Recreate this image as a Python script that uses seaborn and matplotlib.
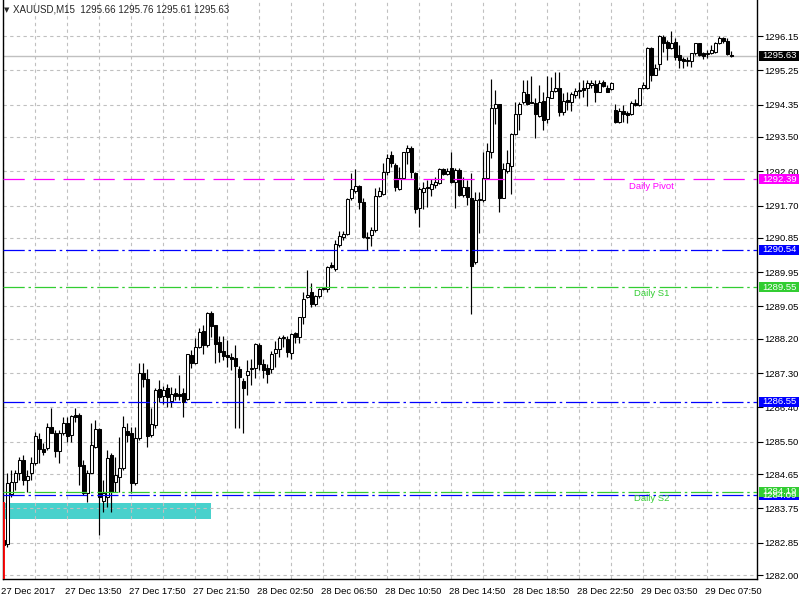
import matplotlib
matplotlib.use("Agg")
import matplotlib.pyplot as plt
import matplotlib.transforms as mtransforms
from matplotlib.patches import Rectangle
import numpy as np
import pandas as pd
import seaborn as sns

opens = [1282.92, 1282.81, 1284.12, 1284.45, 1284.67, 1285.02, 1284.49, 1284.67, 1284.95, 1285.56,
         1285.30, 1285.33, 1285.88, 1285.74, 1285.26, 1285.74, 1286.00, 1285.68, 1286.20, 1286.20,
         1284.89, 1284.15, 1284.69, 1285.37, 1285.83, 1283.95, 1284.06, 1285.15, 1284.45, 1284.57,
         1284.80, 1285.78, 1285.72, 1284.41, 1285.59, 1287.31, 1287.14, 1285.68, 1285.94, 1286.88,
         1286.71, 1286.90, 1286.58, 1286.77, 1286.74, 1286.77, 1286.62, 1287.78, 1287.56, 1287.99,
         1288.41, 1288.04, 1288.87, 1288.56, 1288.13, 1287.88, 1287.78, 1287.73, 1287.69, 1287.40,
         1287.10, 1287.25, 1287.41, 1287.43, 1288.04, 1287.53, 1287.44, 1287.40, 1287.84, 1287.93,
         1288.23, 1288.19, 1287.82, 1288.35, 1288.24, 1288.78, 1289.29, 1289.42, 1289.11, 1289.33,
         1289.51, 1289.51, 1290.14, 1290.03, 1290.66, 1290.87, 1290.95, 1291.89, 1292.09, 1292.21,
         1291.78, 1290.88, 1290.93, 1291.06, 1291.95, 1292.00, 1292.57, 1293.03, 1292.76, 1292.13,
         1292.42, 1293.10, 1293.20, 1292.55, 1291.63, 1292.05, 1292.19, 1292.13, 1292.24, 1292.28,
         1292.65, 1292.54, 1292.69, 1292.31, 1292.62, 1291.98, 1292.19, 1291.89, 1290.21, 1291.84,
         1291.85, 1292.41, 1293.10, 1294.27, 1294.36, 1291.91, 1292.61, 1292.75, 1293.57, 1294.10,
         1294.41, 1294.62, 1294.43, 1294.38, 1294.06, 1294.45, 1293.97, 1294.53, 1294.71, 1294.78,
         1294.16, 1294.47, 1294.43, 1294.60, 1294.71, 1294.78, 1294.78, 1294.87, 1294.88, 1294.69,
         1294.94, 1294.79, 1294.76, 1294.21, 1293.88, 1294.18, 1294.12, 1294.10, 1294.38, 1294.34,
         1294.78, 1294.78, 1295.84, 1295.13, 1295.41, 1296.13, 1296.00, 1295.84, 1296.00, 1295.65,
         1295.54, 1295.50, 1295.50, 1295.70, 1295.96, 1295.70, 1295.67, 1295.70, 1295.72, 1295.96,
         1296.11, 1296.02, 1295.66]
highs = [1283.00, 1284.67, 1284.76, 1284.76, 1285.11, 1285.15, 1284.76, 1285.11, 1285.76, 1285.72,
         1285.46, 1286.00, 1286.39, 1285.81, 1285.81, 1286.16, 1286.14, 1286.20, 1286.39, 1286.25,
         1285.02, 1284.76, 1286.00, 1286.07, 1285.85, 1284.49, 1285.28, 1285.20, 1285.11, 1285.62,
         1286.17, 1286.00, 1285.89, 1285.89, 1287.56, 1287.56, 1287.40, 1286.39, 1286.90, 1287.12,
         1286.96, 1287.01, 1286.94, 1286.90, 1287.25, 1286.90, 1287.80, 1287.91, 1288.21, 1288.48,
         1288.56, 1288.91, 1288.94, 1288.56, 1288.27, 1288.27, 1288.17, 1287.82, 1288.04, 1287.49,
         1287.16, 1287.65, 1287.66, 1288.10, 1288.10, 1287.66, 1287.54, 1287.89, 1288.14, 1288.27,
         1288.30, 1288.27, 1288.36, 1288.39, 1288.78, 1289.44, 1290.01, 1289.66, 1289.35, 1289.53,
         1289.57, 1290.11, 1290.22, 1290.80, 1291.04, 1291.04, 1291.89, 1292.55, 1292.65, 1292.24,
         1291.89, 1291.01, 1291.14, 1292.15, 1292.19, 1292.81, 1293.05, 1293.13, 1292.81, 1292.72,
         1293.11, 1293.29, 1293.25, 1292.59, 1292.19, 1292.33, 1292.37, 1292.39, 1292.46, 1292.68,
         1292.68, 1292.68, 1293.10, 1292.69, 1292.68, 1292.46, 1292.37, 1292.55, 1292.06, 1292.06,
         1293.11, 1293.33, 1295.02, 1294.73, 1294.36, 1292.81, 1293.16, 1293.60, 1294.43, 1294.43,
         1294.99, 1294.99, 1295.11, 1294.52, 1294.86, 1294.69, 1295.11, 1295.08, 1295.21, 1295.21,
         1294.65, 1294.69, 1294.69, 1294.78, 1294.95, 1294.99, 1294.99, 1294.99, 1294.99, 1294.99,
         1294.99, 1294.86, 1294.94, 1294.36, 1294.25, 1294.34, 1294.18, 1294.44, 1294.50, 1294.79,
         1294.95, 1295.87, 1295.87, 1295.41, 1296.18, 1296.18, 1296.05, 1296.28, 1296.11, 1295.91,
         1295.61, 1295.61, 1295.70, 1295.97, 1295.96, 1295.73, 1295.78, 1295.91, 1295.99, 1296.16,
         1296.13, 1296.11, 1295.76]
lows = [1282.47, 1282.74, 1284.06, 1284.23, 1284.49, 1284.36, 1284.19, 1284.49, 1284.89, 1284.95,
        1285.15, 1285.28, 1285.72, 1285.11, 1284.95, 1285.68, 1285.50, 1285.50, 1286.02, 1284.36,
        1284.10, 1283.92, 1284.67, 1285.33, 1283.05, 1283.66, 1283.79, 1283.66, 1284.19, 1284.19,
        1284.76, 1285.50, 1284.15, 1284.36, 1285.54, 1286.94, 1285.37, 1285.63, 1285.85, 1286.55,
        1286.49, 1286.42, 1286.42, 1286.59, 1286.59, 1286.16, 1286.59, 1287.43, 1287.54, 1287.95,
        1287.80, 1287.99, 1288.26, 1287.56, 1287.60, 1287.65, 1287.47, 1287.38, 1285.85, 1285.85,
        1285.74, 1286.73, 1286.99, 1287.16, 1287.38, 1287.16, 1287.05, 1287.30, 1287.47, 1287.73,
        1287.99, 1287.73, 1287.66, 1288.08, 1288.10, 1288.59, 1289.26, 1289.04, 1289.06, 1289.26,
        1289.48, 1289.44, 1290.05, 1289.99, 1290.62, 1290.80, 1290.93, 1291.85, 1292.02, 1291.60,
        1290.84, 1290.53, 1290.64, 1291.01, 1291.93, 1291.98, 1292.50, 1292.72, 1292.08, 1292.11,
        1292.40, 1292.78, 1292.42, 1291.50, 1291.14, 1291.61, 1291.67, 1291.96, 1292.15, 1292.26,
        1292.50, 1292.50, 1292.28, 1291.63, 1291.96, 1291.93, 1291.71, 1288.84, 1290.16, 1290.97,
        1291.80, 1292.40, 1292.96, 1293.83, 1291.54, 1291.89, 1292.55, 1291.99, 1293.55, 1293.68,
        1294.36, 1294.34, 1294.38, 1293.47, 1294.03, 1293.68, 1293.86, 1294.52, 1294.67, 1294.06,
        1294.08, 1294.21, 1294.18, 1294.52, 1294.53, 1294.56, 1294.30, 1294.78, 1294.41, 1294.67,
        1294.82, 1294.67, 1294.73, 1293.86, 1293.86, 1293.90, 1293.86, 1294.08, 1294.30, 1294.32,
        1294.76, 1294.76, 1294.97, 1295.13, 1295.26, 1295.74, 1295.52, 1295.81, 1295.52, 1295.32,
        1295.32, 1295.37, 1295.35, 1295.65, 1295.63, 1295.55, 1295.57, 1295.67, 1295.70, 1295.93,
        1295.96, 1295.65, 1295.61]
closes = [1282.79, 1284.42, 1284.45, 1284.67, 1285.02, 1284.49, 1284.60, 1284.93, 1285.65, 1285.30,
          1285.24, 1285.88, 1285.74, 1285.26, 1285.72, 1286.00, 1285.65, 1286.17, 1286.16, 1284.87,
          1284.15, 1284.69, 1285.41, 1285.83, 1284.06, 1284.16, 1285.06, 1284.19, 1284.63, 1284.80,
          1285.88, 1285.68, 1284.41, 1285.59, 1287.31, 1287.14, 1285.65, 1285.96, 1286.86, 1286.68,
          1286.86, 1286.68, 1286.74, 1286.70, 1286.71, 1286.55, 1287.80, 1287.56, 1287.99, 1288.37,
          1288.04, 1288.87, 1288.55, 1288.06, 1287.86, 1287.75, 1287.72, 1287.66, 1287.49, 1287.21,
          1286.92, 1287.36, 1287.43, 1288.06, 1287.53, 1287.38, 1287.28, 1287.80, 1287.93, 1288.21,
          1288.26, 1287.86, 1288.33, 1288.26, 1288.78, 1289.24, 1289.35, 1289.11, 1289.33, 1289.50,
          1289.53, 1290.09, 1290.09, 1290.68, 1290.90, 1290.95, 1291.86, 1292.13, 1292.21, 1291.80,
          1290.87, 1290.84, 1291.06, 1291.95, 1292.08, 1292.57, 1292.94, 1292.81, 1292.19, 1292.42,
          1293.10, 1293.20, 1292.59, 1291.61, 1292.13, 1292.17, 1292.15, 1292.26, 1292.31, 1292.65,
          1292.54, 1292.61, 1292.31, 1292.62, 1291.98, 1292.19, 1291.93, 1290.10, 1291.85, 1291.87,
          1292.43, 1293.13, 1294.27, 1294.36, 1291.91, 1292.66, 1292.81, 1293.57, 1294.10, 1294.36,
          1294.67, 1294.36, 1294.38, 1294.10, 1294.43, 1293.95, 1294.56, 1294.71, 1294.79, 1294.16,
          1294.44, 1294.43, 1294.62, 1294.71, 1294.74, 1294.73, 1294.91, 1294.91, 1294.69, 1294.91,
          1294.85, 1294.69, 1294.91, 1293.90, 1294.18, 1294.10, 1294.08, 1294.38, 1294.34, 1294.78,
          1294.86, 1295.83, 1295.13, 1295.30, 1296.16, 1295.96, 1295.84, 1295.96, 1295.61, 1295.52,
          1295.50, 1295.52, 1295.70, 1295.96, 1295.65, 1295.63, 1295.70, 1295.78, 1295.96, 1296.11,
          1296.02, 1295.67, 1295.63]

time_labels = ["27 Dec 2017", "27 Dec 13:50", "27 Dec 17:50", "27 Dec 21:50", "28 Dec 02:50",
               "28 Dec 06:50", "28 Dec 10:50", "28 Dec 14:50", "28 Dec 18:50", "28 Dec 22:50",
               "29 Dec 03:50", "29 Dec 07:50"]
price_ticks = [1282.00, 1282.85, 1283.75, 1284.65, 1285.50, 1286.40, 1287.30, 1288.20, 1289.05,
               1289.95, 1290.85, 1291.70, 1292.60, 1293.50, 1294.35, 1295.25, 1296.15]

pivot_level = 1292.39
s1_level = 1289.55
s2_level = 1284.19
blue_levels = [1290.54, 1286.55, 1284.09]
current_price = 1295.63
zone_low, zone_high, zone_end_bar = 1283.47, 1283.89, 52
marker_top = 1283.92
header = "XAUUSD,M15  1295.66 1295.76 1295.61 1295.63"

df = pd.DataFrame({"open": opens, "high": highs, "low": lows, "close": closes})
df["bar"] = np.arange(len(df))
df["bull"] = df["close"] >= df["open"]
df["bottom"] = df[["open", "close"]].min(axis=1)
df["height"] = (df["close"] - df["open"]).abs().clip(lower=0.02)

sns.set_style("white")
plt.rcParams["font.family"] = ["Liberation Sans", "DejaVu Sans"]

W, H = 800, 600
FS = 6.8
fig = plt.figure(figsize=(8, 6), dpi=100)
ax = fig.add_axes([3 / W, 21 / H, 754 / W, 579 / H])
ax.set_facecolor("white")

ax.set_xlim(-0.075, 188.4)
ax.set_ylim(1281.895, 1297.096)

# zone rectangle (background)
ax.add_patch(Rectangle((-0.5, zone_low), zone_end_bar + 0.5, zone_high - zone_low,
                       facecolor="#48D1CC", edgecolor="none", zorder=0.2))

# grid
ax.set_axisbelow(True)
grid_kw = dict(color="#C0C0C0", linestyle=(0, (3, 3)), linewidth=0.8)
ax.set_xticks(range(0, 177, 16))
ax.set_xticks(range(8, 183, 16), minor=True)
ax.set_xticklabels(time_labels, ha="left")
ax.xaxis.grid(True, which="both", **grid_kw)
ax.yaxis.tick_right()
ax.set_yticks(price_ticks)
ax.set_yticklabels([f"{v:.2f}" for v in price_ticks])
ax.yaxis.grid(True, which="major", **grid_kw)
ax.tick_params(axis="x", which="major", length=4, width=0.8, pad=1.5, labelsize=FS,
               direction="out", colors="black")
ax.tick_params(axis="x", which="minor", length=0)
ax.tick_params(axis="y", which="major", length=4, width=0.8, pad=1.2, labelsize=FS,
               direction="out", colors="black", right=True, left=False)
offset = mtransforms.ScaledTranslation(-2 / 100, 0, fig.dpi_scale_trans)
for lab in ax.get_xticklabels():
    lab.set_horizontalalignment("left")
    lab.set_transform(lab.get_transform() + offset)

sns.despine(ax=ax, top=True, right=False, left=False, bottom=False)
for s in ["left", "right", "bottom"]:
    ax.spines[s].set_color("black")
    ax.spines[s].set_linewidth(1.0)

# current price line
ax.axhline(current_price, color="#C0C0C0", linewidth=1.0, zorder=1)

# candles
ax.vlines(df["bar"], df["low"], df["high"], color="black", linewidth=0.85, zorder=3)
ax.bar(df["bar"], df["height"], bottom=df["bottom"], width=0.75,
       color=np.where(df["bull"], "white", "black"), edgecolor="black",
       linewidth=0.75, zorder=4)

# level lines
dashdot = (0, (17, 3, 2, 3))
ax.axhline(pivot_level, color="#FF00FF", linewidth=0.9, linestyle=(0, (17, 7)), zorder=5)
ax.axhline(s1_level, color="#32CD32", linewidth=0.9, linestyle=dashdot, zorder=5)
ax.axhline(s2_level, color="#32CD32", linewidth=0.9, linestyle=dashdot, zorder=5)
for lv in blue_levels:
    ax.axhline(lv, color="#0000FF", linewidth=0.9, linestyle=dashdot, zorder=5)

# red marker line
ax.vlines([0.05], ax.get_ylim()[0], marker_top, color="red", linewidth=1.3, zorder=12,
          clip_on=False)

# level labels inside chart
ax.text(162, 1292.21, "Daily Pivot", color="#FF00FF", fontsize=FS, ha="center", va="center", zorder=7)
ax.text(162, 1289.38, "Daily S1", color="#32CD32", fontsize=FS, ha="center", va="center", zorder=7)
ax.text(162, 1284.02, "Daily S2", color="#32CD32", fontsize=FS, ha="center", va="center", zorder=7)

# price boxes on right axis
trans = mtransforms.blended_transform_factory(fig.transFigure, ax.transData)
box_h = 10 * 0.026254
boxes = [(blue_levels[2], "#0000FF"), (s2_level, "#32CD32"), (blue_levels[1], "#0000FF"),
         (s1_level, "#32CD32"), (blue_levels[0], "#0000FF"), (pivot_level, "#FF00FF"),
         (current_price, "black")]
for lv, col in boxes:
    ax.add_patch(Rectangle((759 / W, lv - box_h / 2), 40 / W, box_h, transform=trans,
                           facecolor=col, edgecolor="none", clip_on=False, zorder=10))
    ax.text(762 / W, lv, f"{lv:.2f}", transform=trans, color="white", fontsize=FS,
            ha="left", va="center", clip_on=False, zorder=11)

# header
fig.text(4 / W, 1 - 10 / H, "\u25BC", fontsize=5, ha="left", va="center",
         family=["DejaVu Sans"])
fig.text(13 / W, 1 - 10 / H, header, fontsize=FS + 0.2, ha="left", va="center")

fig.savefig("out.png", dpi=100)
